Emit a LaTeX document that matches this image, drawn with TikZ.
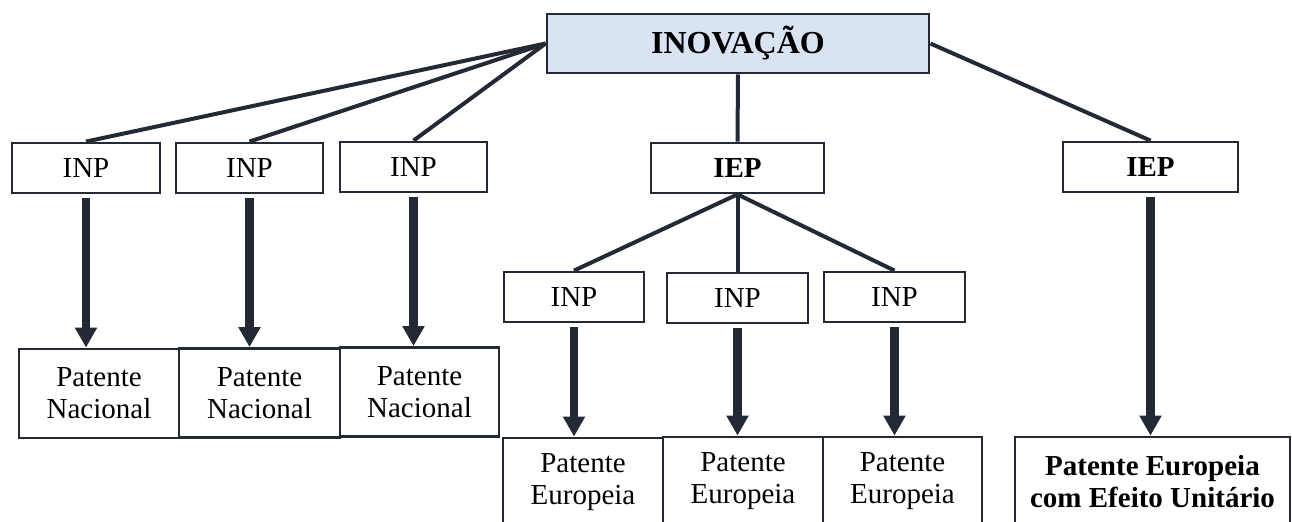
\documentclass[tikz,border=0pt]{standalone}
\usepackage{fontspec}
\setmainfont{Liberation Serif}
\usetikzlibrary{arrows.meta}
\definecolor{linha}{HTML}{232A35}
\definecolor{azulclaro}{HTML}{DAE3F3}

\begin{document}
\begin{tikzpicture}[x=0.5pt,y=-0.5pt,
    caixa/.style={draw=linha,line width=1.4pt,fill=white,inner sep=0pt,align=center,
      font=\fontsize{14.5}{16}\selectfont},
    ligacao/.style={draw=linha,line width=2pt},
    seta/.style={draw=linha,line width=4.2pt,-{Triangle[width=10.5pt,length=10pt]}}]
  \useasboundingbox (0,0) rectangle (1292,522);

  %topo
  \node[caixa,fill=azulclaro,minimum width=191pt,minimum height=29.5pt,
    font=\fontsize{16}{18}\selectfont\bfseries] (inovacao) at (738,43.5) {INOVAÇÃO};

  %via nacional
  \node[caixa,minimum width=74pt,minimum height=25pt] (inp1) at (86,168) {INP};
  \node[caixa,minimum width=73.5pt,minimum height=25pt] (inp2) at (249.5,168) {INP};
  \node[caixa,minimum width=73.5pt,minimum height=25pt] (inp3) at (413.5,167) {INP};
  \node[caixa,minimum width=80pt,minimum height=44.5pt] (pn1) at (99,393.5) {Patente\\Nacional};
  \node[caixa,minimum width=80.5pt,minimum height=44.5pt] (pn2) at (259.5,393) {Patente\\Nacional};
  \node[caixa,minimum width=79.5pt,minimum height=44.5pt] (pn3) at (419.5,392) {Patente\\Nacional};

  %via europeia
  \node[caixa,minimum width=86.5pt,minimum height=25pt,font=\fontsize{14.5}{16}\selectfont\bfseries] (iep1) at (737.5,168) {IEP};
  \node[caixa,minimum width=70pt,minimum height=25pt] (inp4) at (574,297) {INP};
  \node[caixa,minimum width=70.5pt,minimum height=25pt] (inp5) at (737.5,298) {INP};
  \node[caixa,minimum width=70.5pt,minimum height=25pt] (inp6) at (894.5,297) {INP};
  \node[caixa,minimum width=80pt,minimum height=44.5pt] (pe1) at (583,482.5) {Patente\\Europeia};
  \node[caixa,minimum width=80pt,minimum height=44.5pt] (pe2) at (743,481.5) {Patente\\Europeia};
  \node[caixa,minimum width=79.5pt,minimum height=44.5pt] (pe3) at (902.5,481.5) {Patente\\Europeia};

  %efeito unitario
  \node[caixa,minimum width=87.5pt,minimum height=25pt,font=\fontsize{14.5}{16}\selectfont\bfseries] (iep2) at (1150.5,167) {IEP};
  \node[caixa,minimum width=137.5pt,minimum height=44.5pt,font=\fontsize{14.5}{16}\selectfont\bfseries] (peu) at (1152.5,481.5) {Patente Europeia\\com Efeito Unitário};

  \draw[ligacao] (inovacao.west) -- (inp1.north);
  \draw[ligacao] (inovacao.west) -- (inp2.north);
  \draw[ligacao] (inovacao.west) -- (inp3.north);
  \draw[ligacao] (inovacao.south) -- (iep1.north);
  \draw[ligacao] (inovacao.east) -- (iep2.north);
  \draw[ligacao] (iep1.south) -- (inp4.north);
  \draw[ligacao] (iep1.south) -- (inp5.north);
  \draw[ligacao] (iep1.south) -- (inp6.north);

  \draw[seta] ([yshift=-2]inp1.south) -- (inp1.south |- pn1.north);
  \draw[seta] ([yshift=-2]inp2.south) -- (inp2.south |- pn2.north);
  \draw[seta] ([yshift=-2]inp3.south) -- (inp3.south |- pn3.north);
  \draw[seta] ([yshift=-2]inp4.south) -- (inp4.south |- pe1.north);
  \draw[seta] ([yshift=-2]inp5.south) -- (inp5.south |- pe2.north);
  \draw[seta] ([yshift=-2]inp6.south) -- (inp6.south |- pe3.north);
  \draw[seta] ([yshift=-2]iep2.south) -- (iep2.south |- peu.north);
\end{tikzpicture}
\end{document}
